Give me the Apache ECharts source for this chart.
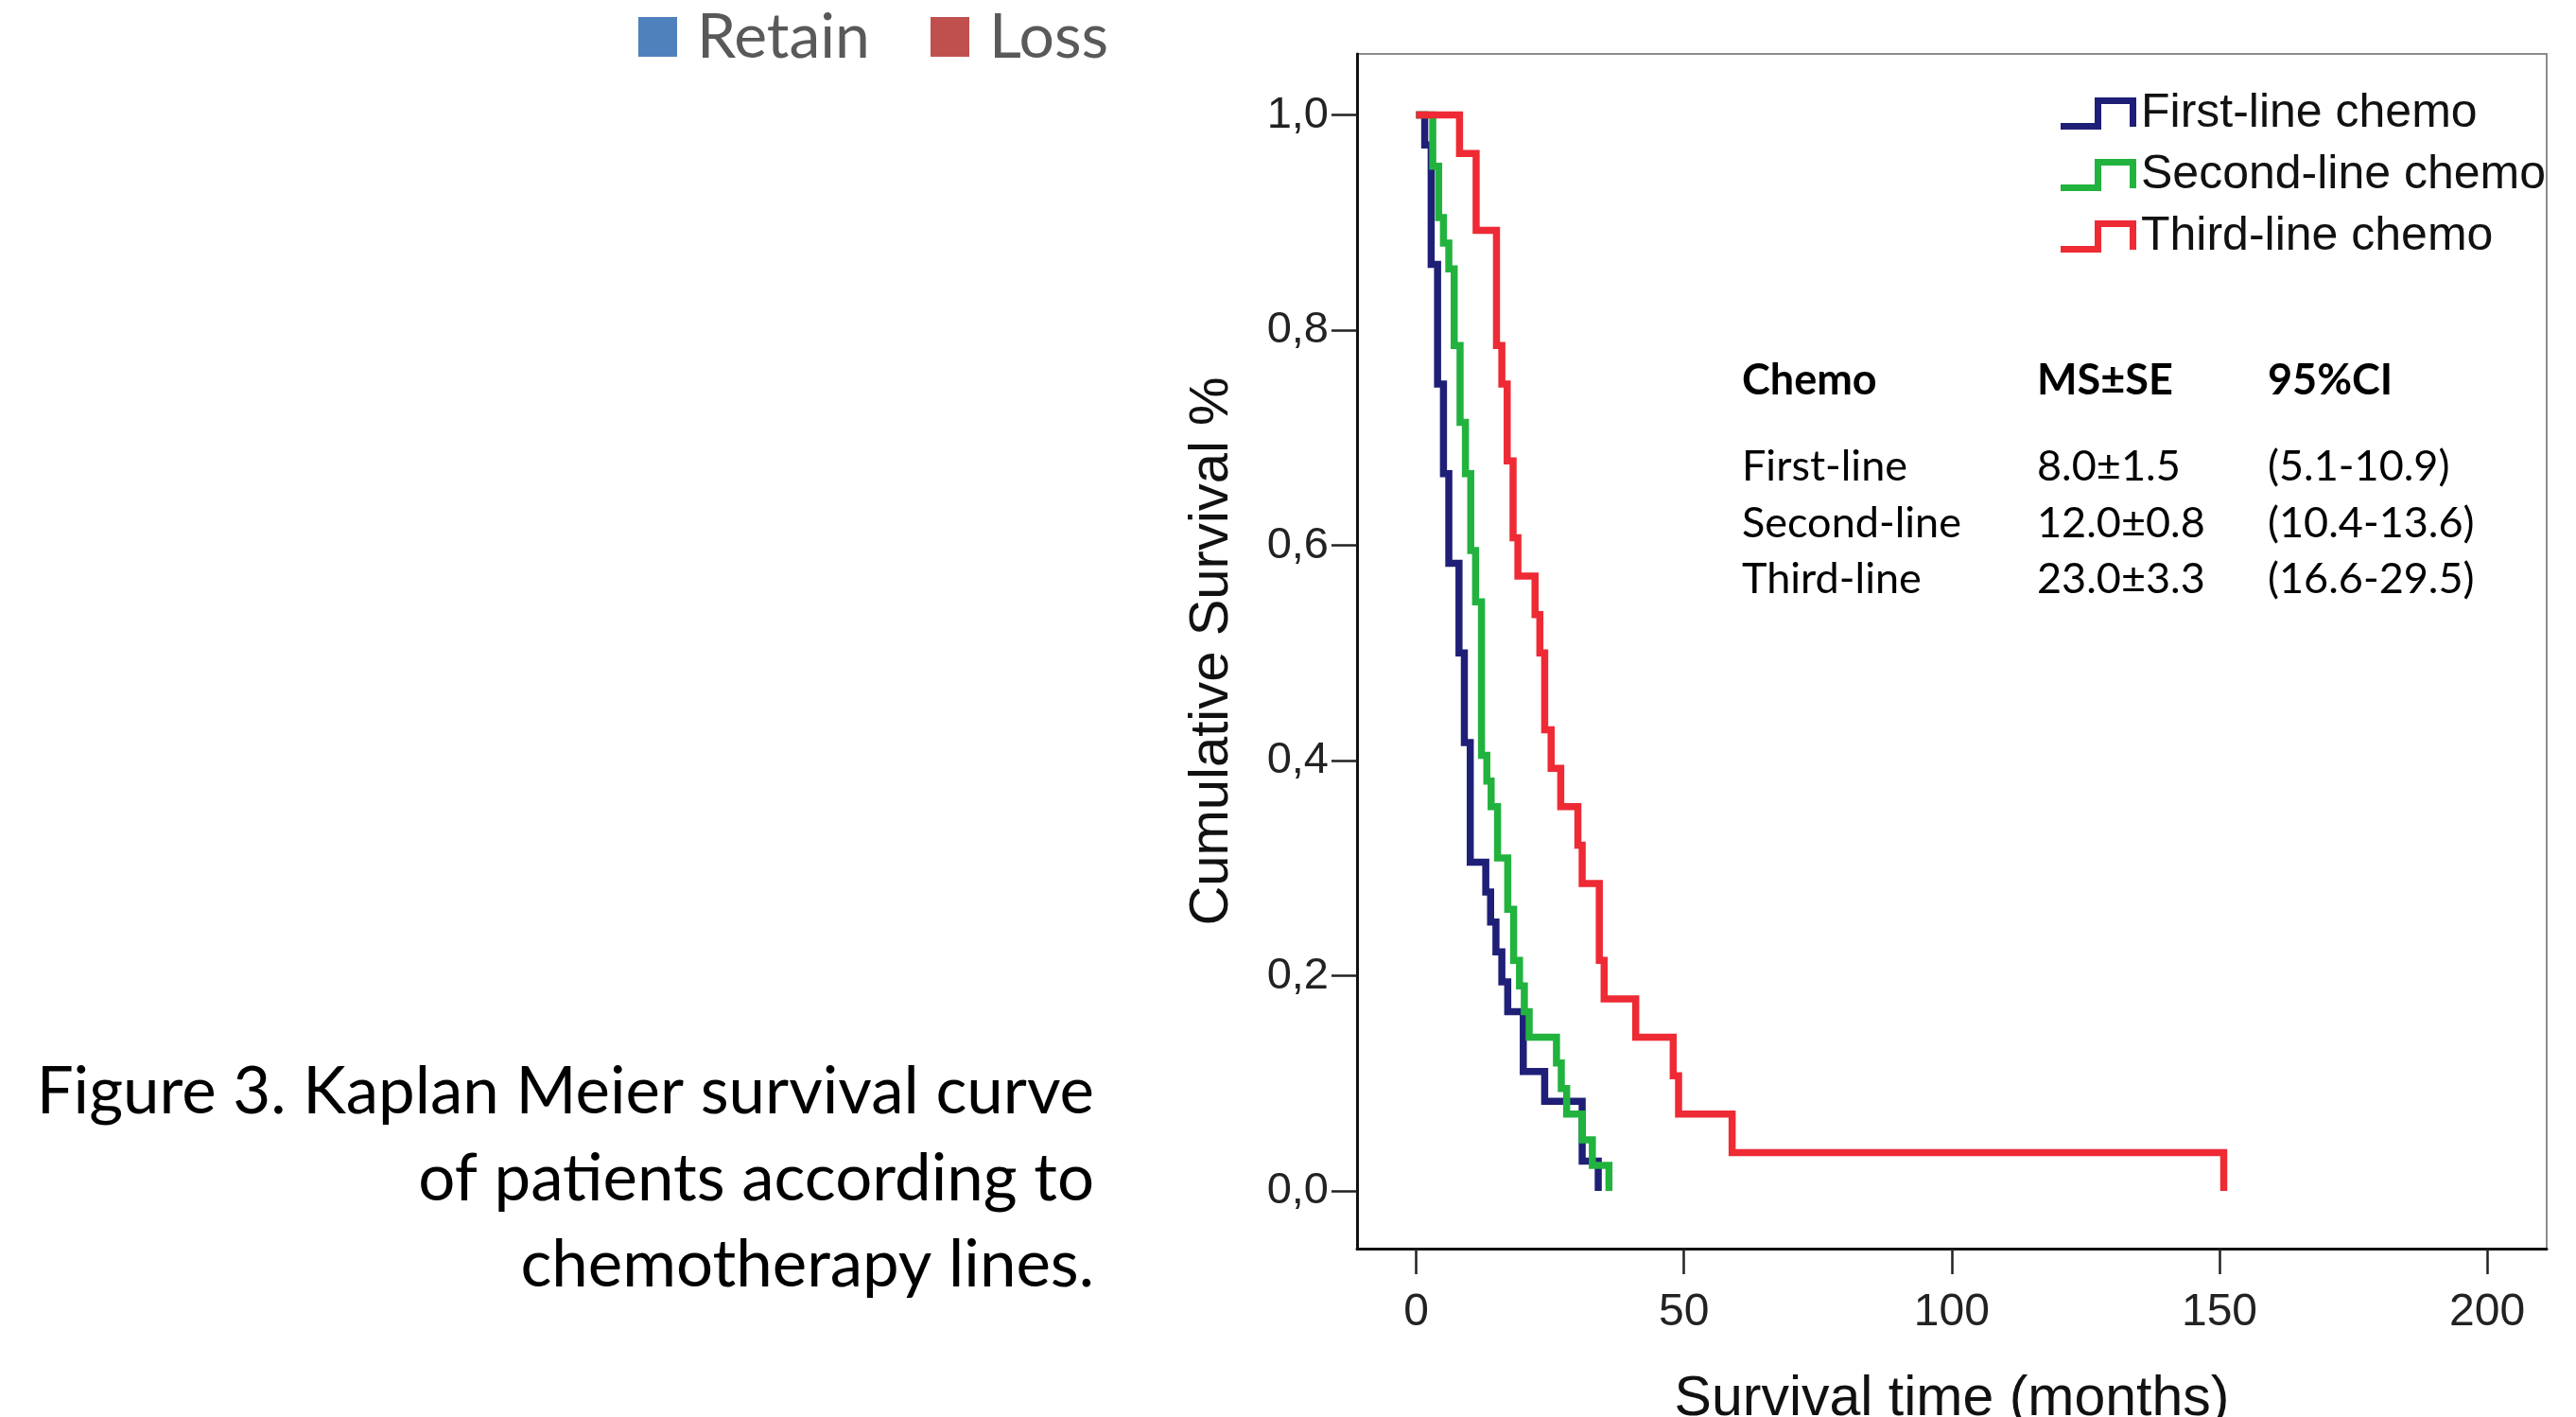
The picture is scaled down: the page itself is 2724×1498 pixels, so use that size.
<!DOCTYPE html>
<html><head><meta charset="utf-8">
<script src="https://cdn.jsdelivr.net/npm/echarts@6/dist/echarts.min.js"></script>
<style>html,body{margin:0;padding:0;background:#fff}#c{width:2724px;height:1498px}</style>
</head><body><div id="c"></div>
<script>
// ---- data ----
const seriesNames = ['First-line chemo', 'Second-line chemo', 'Third-line chemo'];
const firstTimes  = [0, 1.6, 2.8, 4.0, 5.1, 6.1, 8.0, 9.0, 10.1, 13.0, 13.9, 14.9, 16.0, 17.1, 20.0, 24.0, 31.0, 34.0];
const firstSurv   = [1, 0.9722, 0.8611, 0.7500, 0.6667, 0.5833, 0.5000, 0.4167, 0.3056, 0.2778, 0.2500, 0.2222, 0.1944, 0.1667, 0.1111, 0.0833, 0.0278, 0];
const secondTimes = [0, 3.1, 4.2, 5.1, 6.1, 7.1, 8.2, 9.2, 10.2, 11.1, 12.2, 13.2, 14.0, 15.2, 17.1, 18.2, 19.3, 20.2, 21.1, 26.2, 27.1, 28.1, 31.0, 32.9, 36.0];
const secondSurv  = [1, 0.9524, 0.9048, 0.8810, 0.8571, 0.7857, 0.7143, 0.6667, 0.5952, 0.5476, 0.4048, 0.3810, 0.3571, 0.3095, 0.2619, 0.2143, 0.1905, 0.1667, 0.1429, 0.1190, 0.0952, 0.0714, 0.0476, 0.0238, 0];
const thirdTimes  = [0, 8.1, 11.2, 15.0, 16.0, 17.0, 18.1, 19.0, 22.2, 23.1, 24.0, 25.2, 27.0, 30.2, 31.0, 34.2, 35.1, 41.0, 48.0, 49.0, 59.0, 150.8];
const thirdSurv   = [1, 0.9643, 0.8929, 0.7857, 0.7500, 0.6786, 0.6071, 0.5714, 0.5357, 0.5000, 0.4286, 0.3929, 0.3571, 0.3214, 0.2857, 0.2143, 0.1786, 0.1429, 0.1071, 0.0714, 0.0357, 0];
const xTicks = [0, 50, 100, 150, 200];
const yTicks = [0, 0.2, 0.4, 0.6, 0.8, 1.0];
const tableHeader = ['Chemo', 'MS±SE', '95%CI'];
const tableRows = [
  ['First-line', '8.0±1.5', '(5.1-10.9)'],
  ['Second-line', '12.0±0.8', '(10.4-13.6)'],
  ['Third-line', '23.0±3.3', '(16.6-29.5)']
];
const topLegend = ['Retain', 'Loss'];
const captionLines = ['Figure 3. Kaplan Meier survival curve', 'of patients according to', 'chemotherapy lines.'];
// ---------------------------------------

const colors = ['#1f1f78', '#22b33e', '#ee2a35'];
const pair = (t, s) => t.map((v, i) => [v, s[i]]);
const seriesData = [pair(firstTimes, firstSurv), pair(secondTimes, secondSurv), pair(thirdTimes, thirdSurv)];

const chart = echarts.init(document.getElementById('c'), null, {renderer: 'canvas'});
const SANS = '"Liberation Sans", Arial, sans-serif';
const CAL = 'Lato, "Open Sans", sans-serif';

const graphics = [];
// top legend (Retain / Loss)
const topColors = ['#4f81bd', '#c0504d'];
const topX = [675, 984];
topLegend.forEach((name, i) => {
  graphics.push({type: 'rect', x: topX[i], y: 18, shape: {width: 41, height: 42}, style: {fill: topColors[i]}});
  graphics.push({type: 'text', x: topX[i] + 62, y: 40, style: {text: name, font: '66px ' + CAL, fill: '#595959', verticalAlign: 'middle'}});
});
// caption
const capY = [1155, 1247, 1338];
captionLines.forEach((line, i) => {
  graphics.push({type: 'text', x: 1157, y: capY[i], style: {text: line, font: '69px ' + CAL, fill: '#000', align: 'right', verticalAlign: 'middle'}});
});
// table
const colX = [1842, 2154, 2398];
tableHeader.forEach((h, j) => {
  graphics.push({type: 'text', x: colX[j], y: 402, style: {text: h, font: 'bold 45px ' + CAL, fill: '#000', verticalAlign: 'middle'}});
});
const rowY = [493, 553, 612];
tableRows.forEach((r, i) => r.forEach((c, j) => {
  graphics.push({type: 'text', x: colX[j], y: rowY[i], style: {text: c, font: '45px ' + CAL, fill: '#000', verticalAlign: 'middle'}});
}));

const stepIcon = 'path://M0,27 L36,27 L36,0 L80,0 L80,31 L73,31 L73,7 L43,7 L43,34 L0,34 Z';

chart.setOption({
  animation: false,
  backgroundColor: '#fff',
  color: colors,
  grid: {left: 1435, top: 57, width: 1258, height: 1263, outerBoundsMode: 'none', containLabel: false,
    show: true, borderColor: '#8c8c8c', borderWidth: 2, backgroundColor: 'transparent'},
  legend: {
    orient: 'vertical', left: 2174, top: 90, itemWidth: 80, itemHeight: 34, itemGap: 15,
    icon: stepIcon, itemStyle: {borderWidth: 0},
    textStyle: {fontFamily: SANS, fontSize: 50, color: '#111', padding: [0, 0, 0, 0], lineHeight: 50},
    data: seriesNames
  },
  xAxis: {
    type: 'value', min: -11.04, max: 211.1,
    name: 'Survival time (months)', nameLocation: 'middle', nameGap: 130,
    nameTextStyle: {fontFamily: SANS, fontSize: 59, color: '#111'},
    axisLine: {show: true, onZero: false, lineStyle: {color: '#111', width: 3}},
    axisTick: {show: true, customValues: xTicks, length: 27, lineStyle: {color: '#222', width: 2.5}},
    axisLabel: {customValues: xTicks, margin: 44, fontFamily: SANS, fontSize: 48, color: '#222'},
    splitLine: {show: false}
  },
  yAxis: {
    type: 'value', min: -0.0536, max: 1.0568,
    name: 'Cumulative Survival %', nameLocation: 'middle', nameGap: 124, nameRotate: 90,
    nameTextStyle: {fontFamily: SANS, fontSize: 58, color: '#111'},
    axisLine: {show: true, onZero: false, lineStyle: {color: '#111', width: 3}},
    axisTick: {show: true, customValues: yTicks, length: 27, lineStyle: {color: '#222', width: 2.5}},
    axisLabel: {customValues: yTicks, margin: 30, fontFamily: SANS, fontSize: 47, color: '#222',
      formatter: v => v.toFixed(1).replace('.', ',')},
    splitLine: {show: false}
  },
  series: seriesNames.map((n, i) => ({
    name: n, type: 'line', step: 'end', data: seriesData[i], showSymbol: false, symbol: 'none',
    lineStyle: {color: colors[i], width: 7.5, cap: 'butt', join: 'miter'}, itemStyle: {color: colors[i]},
    z: 2 + i
  })),
  graphic: graphics
});
</script></body></html>
